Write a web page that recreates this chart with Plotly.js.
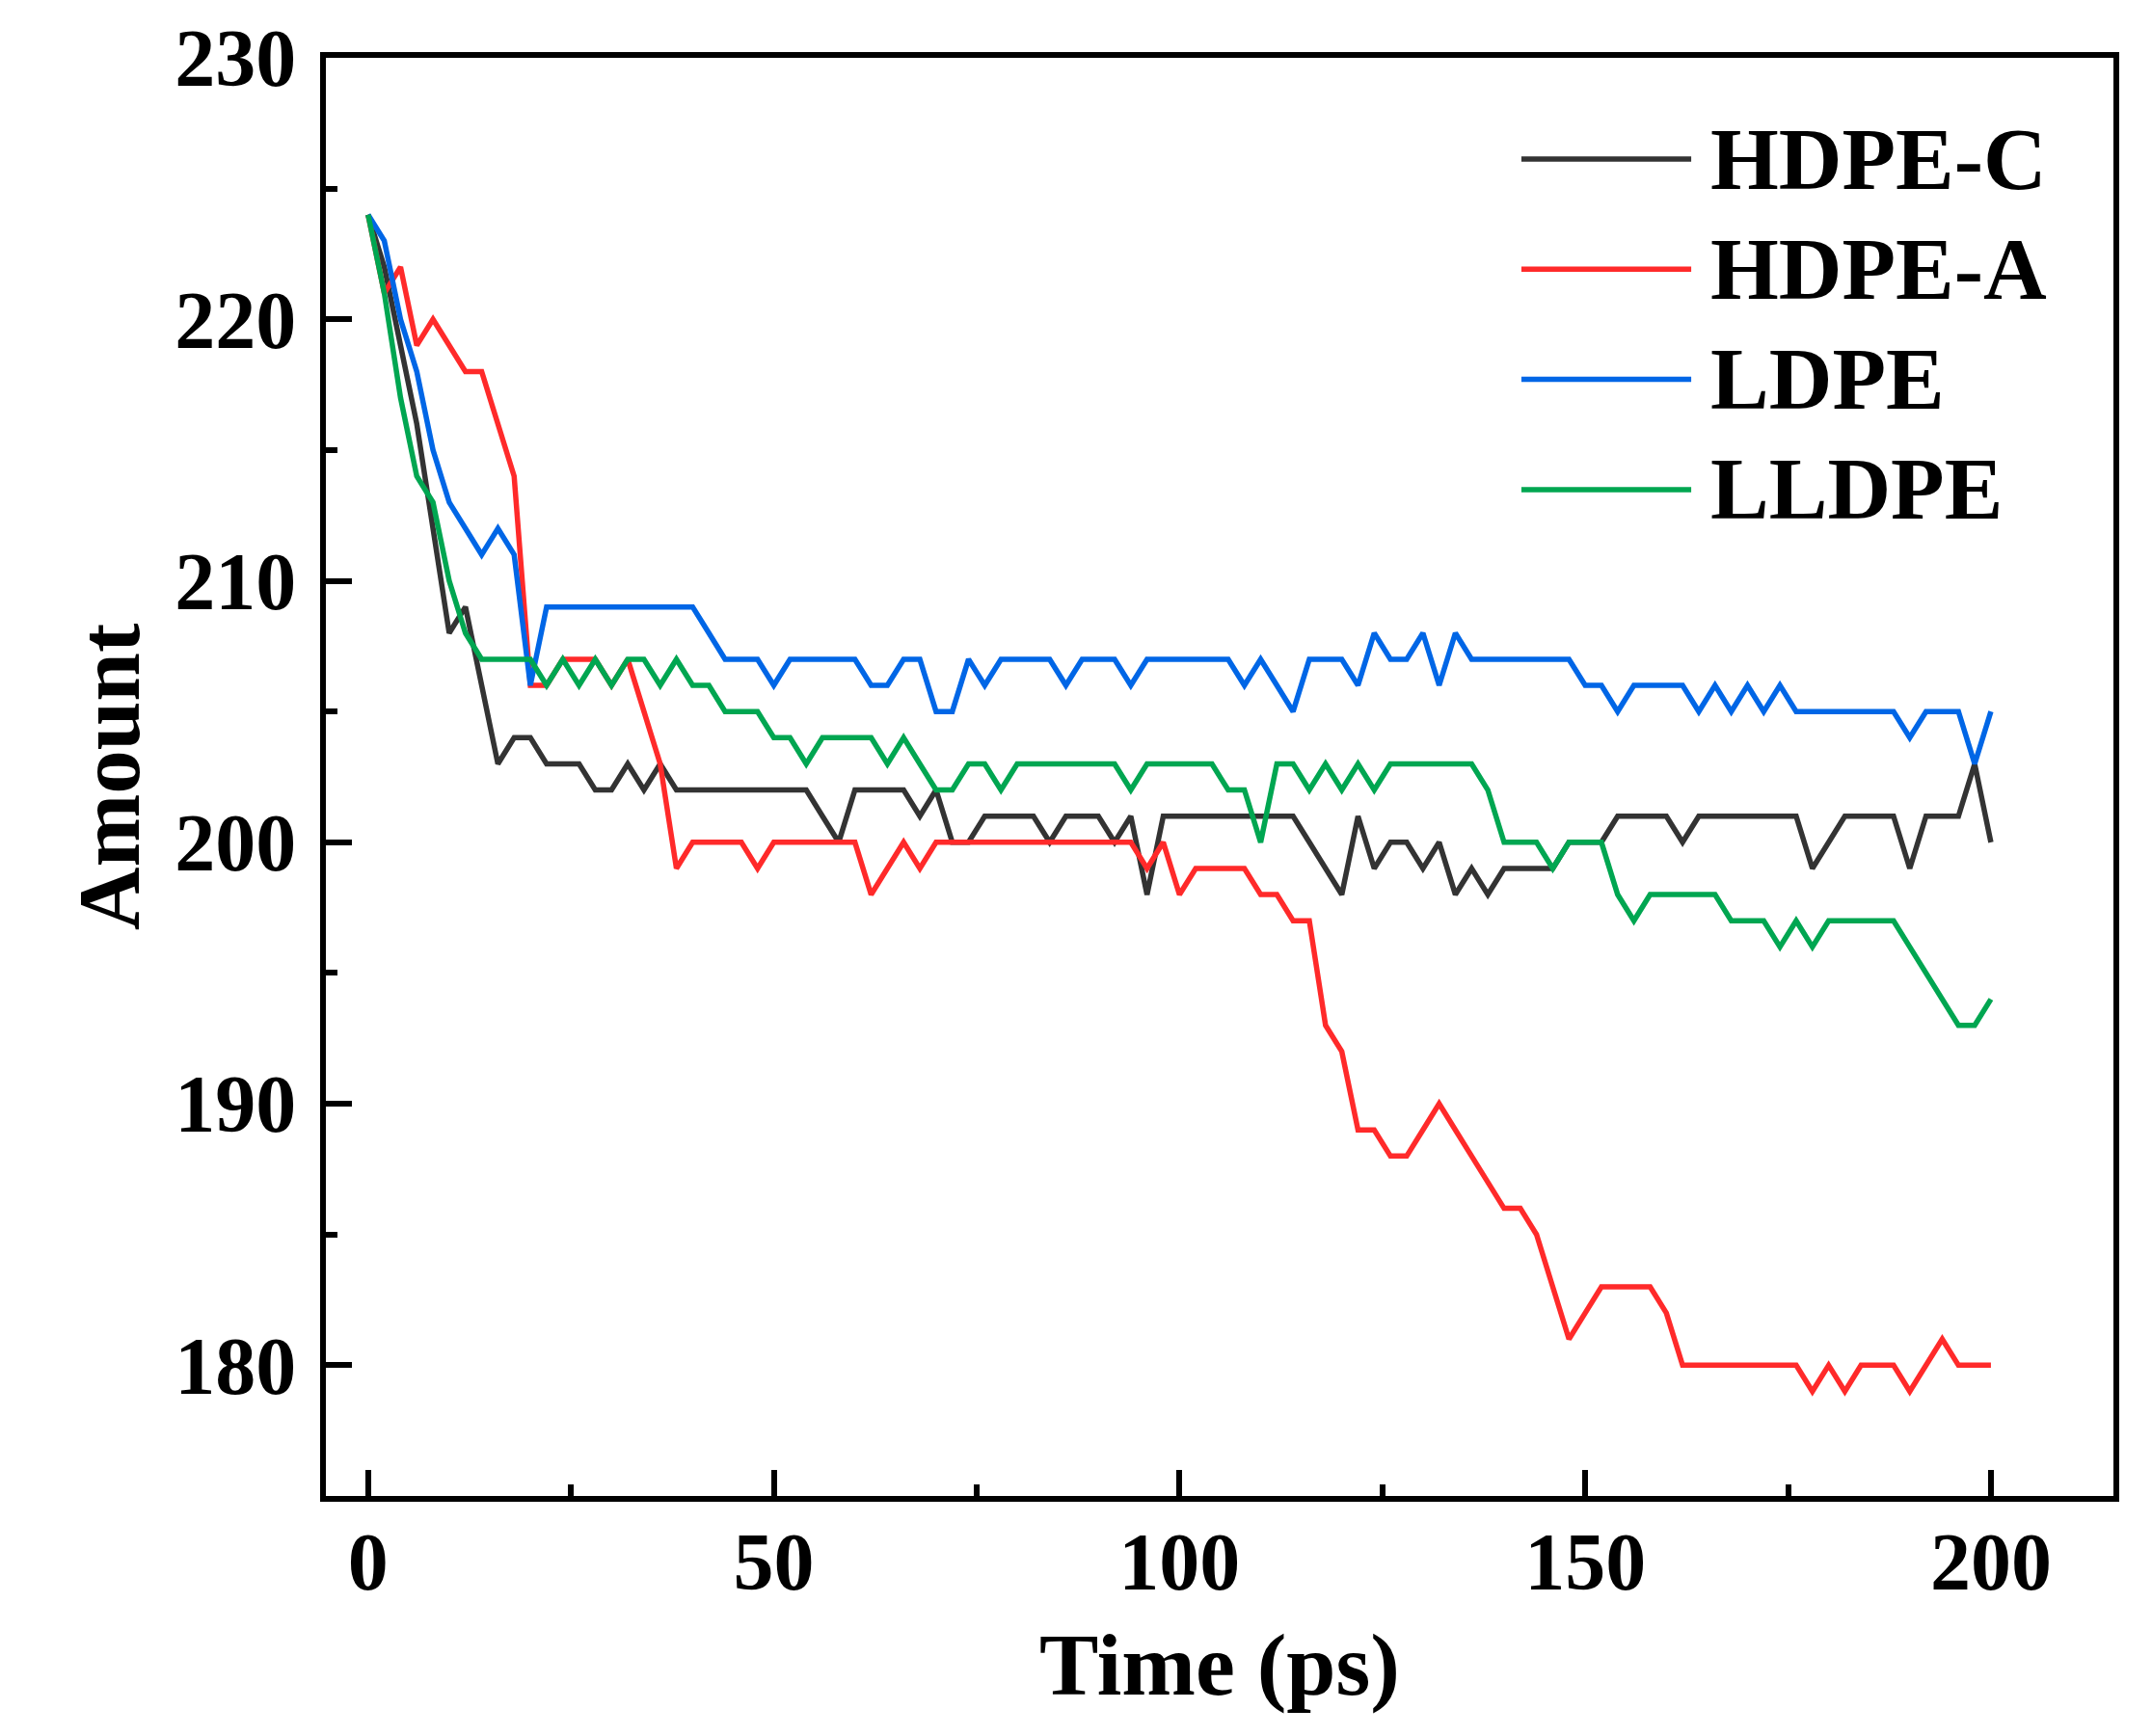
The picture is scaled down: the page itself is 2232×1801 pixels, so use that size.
<!DOCTYPE html>
<html>
<head>
<meta charset="utf-8">
<script src="https://cdn.plot.ly/plotly-3.0.1.min.js"></script>
<style>
  html, body { margin: 0; padding: 0; background: #fff; }
  #plot { width: 2232px; height: 1801px; }
</style>
</head>
<body>
<div id="plot"></div>
<script>
// values (one frame every 2 ps)
const time = [0, 2, 4, 6, 8, 10, 12, 14, 16, 18,
  20, 22, 24, 26, 28, 30, 32, 34, 36, 38,
  40, 42, 44, 46, 48, 50, 52, 54, 56, 58,
  60, 62, 64, 66, 68, 70, 72, 74, 76, 78,
  80, 82, 84, 86, 88, 90, 92, 94, 96, 98,
  100, 102, 104, 106, 108, 110, 112, 114, 116, 118,
  120, 122, 124, 126, 128, 130, 132, 134, 136, 138,
  140, 142, 144, 146, 148, 150, 152, 154, 156, 158,
  160, 162, 164, 166, 168, 170, 172, 174, 176, 178,
  180, 182, 184, 186, 188, 190, 192, 194, 196, 198,
  200];

const hdpeC = [224, 222, 219, 216, 212, 208, 209, 206, 203, 204,
  204, 203, 203, 203, 202, 202, 203, 202, 203, 202,
  202, 202, 202, 202, 202, 202, 202, 202, 201, 200,
  202, 202, 202, 202, 201, 202, 200, 200, 201, 201,
  201, 201, 200, 201, 201, 201, 200, 201, 198, 201,
  201, 201, 201, 201, 201, 201, 201, 201, 200, 199,
  198, 201, 199, 200, 200, 199, 200, 198, 199, 198,
  199, 199, 199, 199, 200, 200, 200, 201, 201, 201,
  201, 200, 201, 201, 201, 201, 201, 201, 201, 199,
  200, 201, 201, 201, 201, 199, 201, 201, 201, 203,
  200];

const hdpeA = [224, 221, 222, 219, 220, 219, 218, 218, 216, 214,
  206, 206, 207, 207, 207, 206, 207, 205, 203, 199,
  200, 200, 200, 200, 199, 200, 200, 200, 200, 200,
  200, 198, 199, 200, 199, 200, 200, 200, 200, 200,
  200, 200, 200, 200, 200, 200, 200, 200, 199, 200,
  198, 199, 199, 199, 199, 198, 198, 197, 197, 193,
  192, 189, 189, 188, 188, 189, 190, 189, 188, 187,
  186, 186, 185, 183, 181, 182, 183, 183, 183, 183,
  182, 180, 180, 180, 180, 180, 180, 180, 180, 179,
  180, 179, 180, 180, 180, 179, 180, 181, 180, 180,
  180];

const ldpe = [224, 223, 220, 218, 215, 213, 212, 211, 212, 211,
  206, 209, 209, 209, 209, 209, 209, 209, 209, 209,
  209, 208, 207, 207, 207, 206, 207, 207, 207, 207,
  207, 206, 206, 207, 207, 205, 205, 207, 206, 207,
  207, 207, 207, 206, 207, 207, 207, 206, 207, 207,
  207, 207, 207, 207, 206, 207, 206, 205, 207, 207,
  207, 206, 208, 207, 207, 208, 206, 208, 207, 207,
  207, 207, 207, 207, 207, 206, 206, 205, 206, 206,
  206, 206, 205, 206, 205, 206, 205, 206, 205, 205,
  205, 205, 205, 205, 205, 204, 205, 205, 205, 203,
  205];

const lldpe = [224, 221, 217, 214, 213, 210, 208, 207, 207, 207,
  207, 206, 207, 206, 207, 206, 207, 207, 206, 207,
  206, 206, 205, 205, 205, 204, 204, 203, 204, 204,
  204, 204, 203, 204, 203, 202, 202, 203, 203, 202,
  203, 203, 203, 203, 203, 203, 203, 202, 203, 203,
  203, 203, 203, 202, 202, 200, 203, 203, 202, 203,
  202, 203, 202, 203, 203, 203, 203, 203, 203, 202,
  200, 200, 200, 199, 200, 200, 200, 198, 197, 198,
  198, 198, 198, 198, 197, 197, 197, 196, 197, 196,
  197, 197, 197, 197, 197, 196, 195, 194, 193, 193,
  194];

const seriesNames = ['HDPE-C', 'HDPE-A', 'LDPE', 'LLDPE'];
const seriesValues = [hdpeC, hdpeA, ldpe, lldpe];
const seriesColors = ['#333333', '#ff2a2a', '#0066e6', '#00a651'];

const xTicks = [0, 50, 100, 150, 200];
const yTicks = [180, 190, 200, 210, 220, 230];

const serif = '"Liberation Serif", "Times New Roman", serif';
const lineW = 5.5;

const traces = seriesNames.map((name, i) => ({
  x: time,
  y: seriesValues[i],
  name: name,
  type: 'scatter',
  mode: 'lines',
  line: { color: seriesColors[i], width: lineW },
  hoverinfo: 'x+y+name',
  showlegend: false
}));

// legend drawn by hand so the sample lines can be long like the original
const legendShapes = [];
const legendLabels = [];
seriesNames.forEach((name, i) => {
  const yy = 0.9296 - i * 0.0766;
  legendShapes.push({
    type: 'line', xref: 'paper', yref: 'paper',
    x0: 0.6688, x1: 0.7638, y0: yy, y1: yy,
    line: { color: seriesColors[i], width: lineW }
  });
  legendLabels.push({
    xref: 'paper', yref: 'paper', x: 0.7735, y: yy,
    xanchor: 'left', yanchor: 'middle', showarrow: false,
    text: name,
    font: { family: serif, size: 91, color: '#000', weight: 'bold' }
  });
});

const axisCommon = {
  showline: true,
  linewidth: 6,
  linecolor: '#000',
  mirror: true,
  showgrid: false,
  zeroline: false,
  ticks: 'inside',
  ticklen: 27,
  tickwidth: 6,
  tickcolor: '#000',
  tickfont: { family: serif, size: 84, color: '#000', weight: 'bold' }
};

const layout = {
  width: 2232,
  height: 1801,
  margin: { l: 338, r: 40, t: 60, b: 249 },
  paper_bgcolor: '#fff',
  plot_bgcolor: '#fff',
  showlegend: false,
  xaxis: {
    ...axisCommon,
    range: [-5.2, 215.1],
    tickvals: xTicks,
    ticktext: xTicks.map(String),
    ticklabelstandoff: -10,
    minor: { dtick: 25, ticks: 'inside', ticklen: 12, tickwidth: 6, tickcolor: '#000' },
    title: {
      text: 'Time (ps)',
      font: { family: serif, size: 92, color: '#000', weight: 'bold' },
      standoff: 30
    }
  },
  yaxis: {
    ...axisCommon,
    range: [175, 230],
    tickvals: yTicks,
    ticktext: yTicks.map(String),
    ticklabelstandoff: 8,
    minor: { dtick: 5, ticks: 'inside', ticklen: 12, tickwidth: 6, tickcolor: '#000' },
    title: {
      text: 'Amount',
      font: { family: serif, size: 91, color: '#000', weight: 'bold' },
      standoff: 8
    }
  },
  shapes: legendShapes,
  annotations: legendLabels
};

Plotly.newPlot('plot', traces, layout, { staticPlot: true });
</script>
</body>
</html>
